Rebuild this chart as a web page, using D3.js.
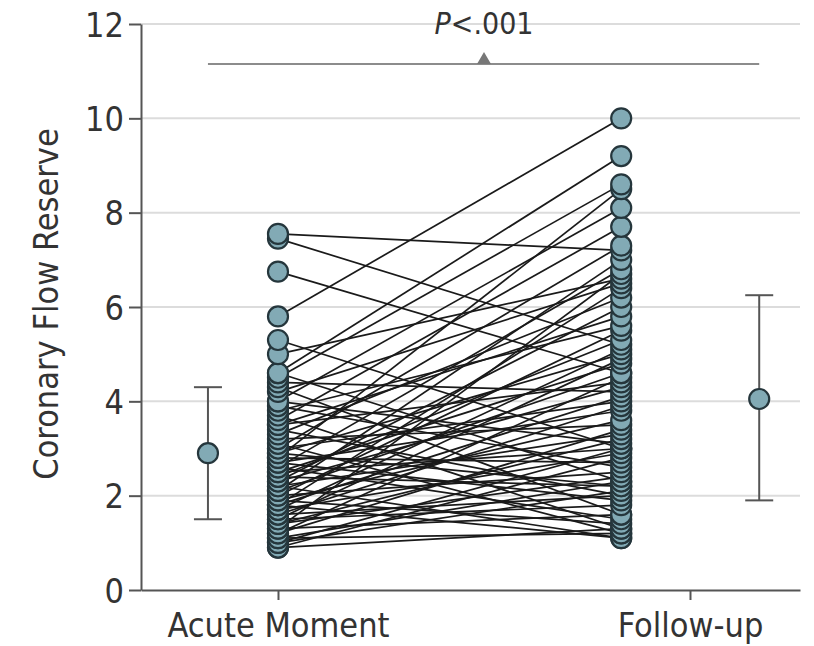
<!DOCTYPE html>
<html>
<head>
<meta charset="utf-8">
<script src="https://cdn.jsdelivr.net/npm/d3@7"></script>
<style>
  body { margin: 0; background: #fff; }
  text { font-family: "Liberation Sans Narrow", "DejaVu Sans Condensed", sans-serif; fill: #333; }
</style>
</head>
<body>
<div id="chart"></div>
<script>

// categories and tick labels
var categories = ["Acute Moment", "Follow-up"];
var yTicks = [0, 2, 4, 6, 8, 10, 12];

// paired patient values
var acuteValues = [7.55, 7.45, 6.75, 5.8, 5.3, 5.0, 4.6, 4.6, 4.5, 4.3, 4.2, 4.0, 4.0, 3.8, 3.7, 3.6, 3.5, 3.4, 3.3, 3.2,
    3.1, 3.0, 3.0, 2.9, 2.8, 2.8, 2.7, 2.6, 2.6, 2.5, 2.5, 2.4, 2.4, 2.3, 2.3, 2.2, 2.2, 2.1, 2.1, 2.0,
    2.0, 1.9, 1.9, 1.8, 1.8, 1.7, 1.7, 1.6, 1.6, 1.5, 1.5, 1.4, 1.4, 1.3, 1.3, 1.2, 1.2, 1.1, 1.1, 1.0,
    1.0, 0.9, 0.9, 3.9, 4.4, 2.7, 3.5, 1.8, 2.9];
var followUpValues = [7.2, 5.2, 4.6, 10.0, 3.0, 6.6, 9.2, 2.3, 8.6, 1.6, 6.5, 3.1, 8.1, 5.6, 1.3, 7.7, 4.4, 2.0, 6.2, 3.5,
    1.2, 7.3, 4.0, 5.0, 2.7, 8.5, 3.8, 1.5, 6.8, 4.8, 3.0, 5.3, 2.2, 6.0, 4.3, 1.1, 3.3, 7.0, 4.6, 2.5,
    5.5, 3.6, 1.4, 4.1, 6.4, 2.9, 5.1, 2.0, 3.9, 1.8, 4.9, 3.2, 2.4, 6.7, 1.6, 3.4, 4.5, 2.3, 1.2, 3.0,
    2.1, 1.3, 2.8, 2.6, 4.2, 1.9, 5.8, 1.1, 2.2];

// summary (mean with bars) per group
var meanValues = [2.9, 4.05];
var lowerValues = [1.5, 1.9];
var upperValues = [4.3, 6.25];

var pLabel = ".001";

var width = 814, height = 646;
var margin = { left: 141, right: 14, top: 24, bottom: 56 };

var svg = d3.select("#chart").append("svg")
    .attr("width", width)
    .attr("height", height);

// x in category units: 0 = acute, 1 = follow-up tick
var x = d3.scaleLinear()
    .domain([-0.3325, 1.267])
    .range([margin.left, width - margin.right]);

var y = d3.scaleLinear()
    .domain([0, 12])
    .range([height - margin.bottom, margin.top]);

var dotPos = [0, 0.833];
var meanPos = [-0.17, 1.168];

// gridlines
svg.append("g")
    .selectAll("line")
    .data(yTicks.slice(1))
    .enter().append("line")
    .attr("x1", x.range()[0])
    .attr("x2", x.range()[1])
    .attr("y1", function(d) { return y(d); })
    .attr("y2", function(d) { return y(d); })
    .style("stroke", "#dcdcdc")
    .style("stroke-width", 2);

// paired lines
var pairs = acuteValues.map(function(a, i) { return [a, followUpValues[i]]; });

svg.append("g")
    .selectAll("line")
    .data(pairs)
    .enter().append("line")
    .attr("x1", x(dotPos[0]))
    .attr("x2", x(dotPos[1]))
    .attr("y1", function(d) { return y(d[0]); })
    .attr("y2", function(d) { return y(d[1]); })
    .style("stroke", "#1a1a1a")
    .style("stroke-width", 1.7);

var dotFill = "#82aab5", dotStroke = "#25363c";

function drawDots(vals, pos) {
    svg.append("g")
        .selectAll("circle")
        .data(vals.slice().sort(d3.ascending))
        .enter().append("circle")
        .attr("cx", x(pos))
        .attr("cy", function(d) { return y(d); })
        .attr("r", 10)
        .style("fill", dotFill)
        .style("stroke", dotStroke)
        .style("stroke-width", 2.2);
}
drawDots(acuteValues, dotPos[0]);
drawDots(followUpValues, dotPos[1]);

// mean and bars
var summary = svg.append("g");
meanValues.forEach(function(m, i) {
    var cx = x(meanPos[i]);
    summary.append("line")
        .attr("x1", cx).attr("x2", cx)
        .attr("y1", y(lowerValues[i])).attr("y2", y(upperValues[i]))
        .style("stroke", "#555").style("stroke-width", 2);
    [lowerValues[i], upperValues[i]].forEach(function(v) {
        summary.append("line")
            .attr("x1", cx - 14).attr("x2", cx + 14)
            .attr("y1", y(v)).attr("y2", y(v))
            .style("stroke", "#555").style("stroke-width", 2);
    });
    summary.append("circle")
        .attr("cx", cx).attr("cy", y(m))
        .attr("r", 10)
        .style("fill", dotFill)
        .style("stroke", dotStroke)
        .style("stroke-width", 2.2);
});

// significance bracket
var sigY = y(11.15);
var sig = svg.append("g");
sig.append("line")
    .attr("x1", x(meanPos[0])).attr("x2", x(meanPos[1]))
    .attr("y1", sigY).attr("y2", sigY)
    .style("stroke", "#666").style("stroke-width", 1.5);
var triX = x(0.5);
sig.append("path")
    .attr("d", "M" + (triX - 7) + "," + sigY + " L" + triX + "," + (sigY - 12) + " L" + (triX + 7) + "," + sigY + " Z")
    .style("fill", "#777");
var pText = sig.append("text")
    .attr("x", triX)
    .attr("y", 34)
    .style("text-anchor", "middle")
    .style("font-size", "30px");
pText.append("tspan").style("font-style", "italic").text("P");
pText.append("tspan").text("<" + pLabel);

// axes
var yAxis = svg.append("g")
    .attr("transform", "translate(" + margin.left + ",0)")
    .call(d3.axisLeft(y).tickValues(yTicks).tickSize(12).tickSizeOuter(0).tickPadding(5));

var xAxis = svg.append("g")
    .attr("transform", "translate(0," + y(0) + ")")
    .call(d3.axisBottom(x).tickValues([0, 1]).tickFormat(function(d) { return categories[d]; })
        .tickSize(10).tickSizeOuter(0).tickPadding(8));

[yAxis, xAxis].forEach(function(ax) {
    ax.select(".domain").style("stroke", "#555").style("stroke-width", 2);
    ax.selectAll(".tick line").style("stroke", "#555").style("stroke-width", 2);
    ax.selectAll(".tick text").style("font-size", "34px").style("fill", "#333");
});
xAxis.selectAll(".tick text").attr("dy", "0.85em");
yAxis.selectAll(".tick text").attr("dy", "0.36em");

// y title
svg.append("text")
    .attr("transform", "translate(58," + (y(6) - 3) + ") rotate(-90)")
    .style("text-anchor", "middle")
    .style("font-size", "34px")
    .text("Coronary Flow Reserve");

</script>
</body>
</html>
